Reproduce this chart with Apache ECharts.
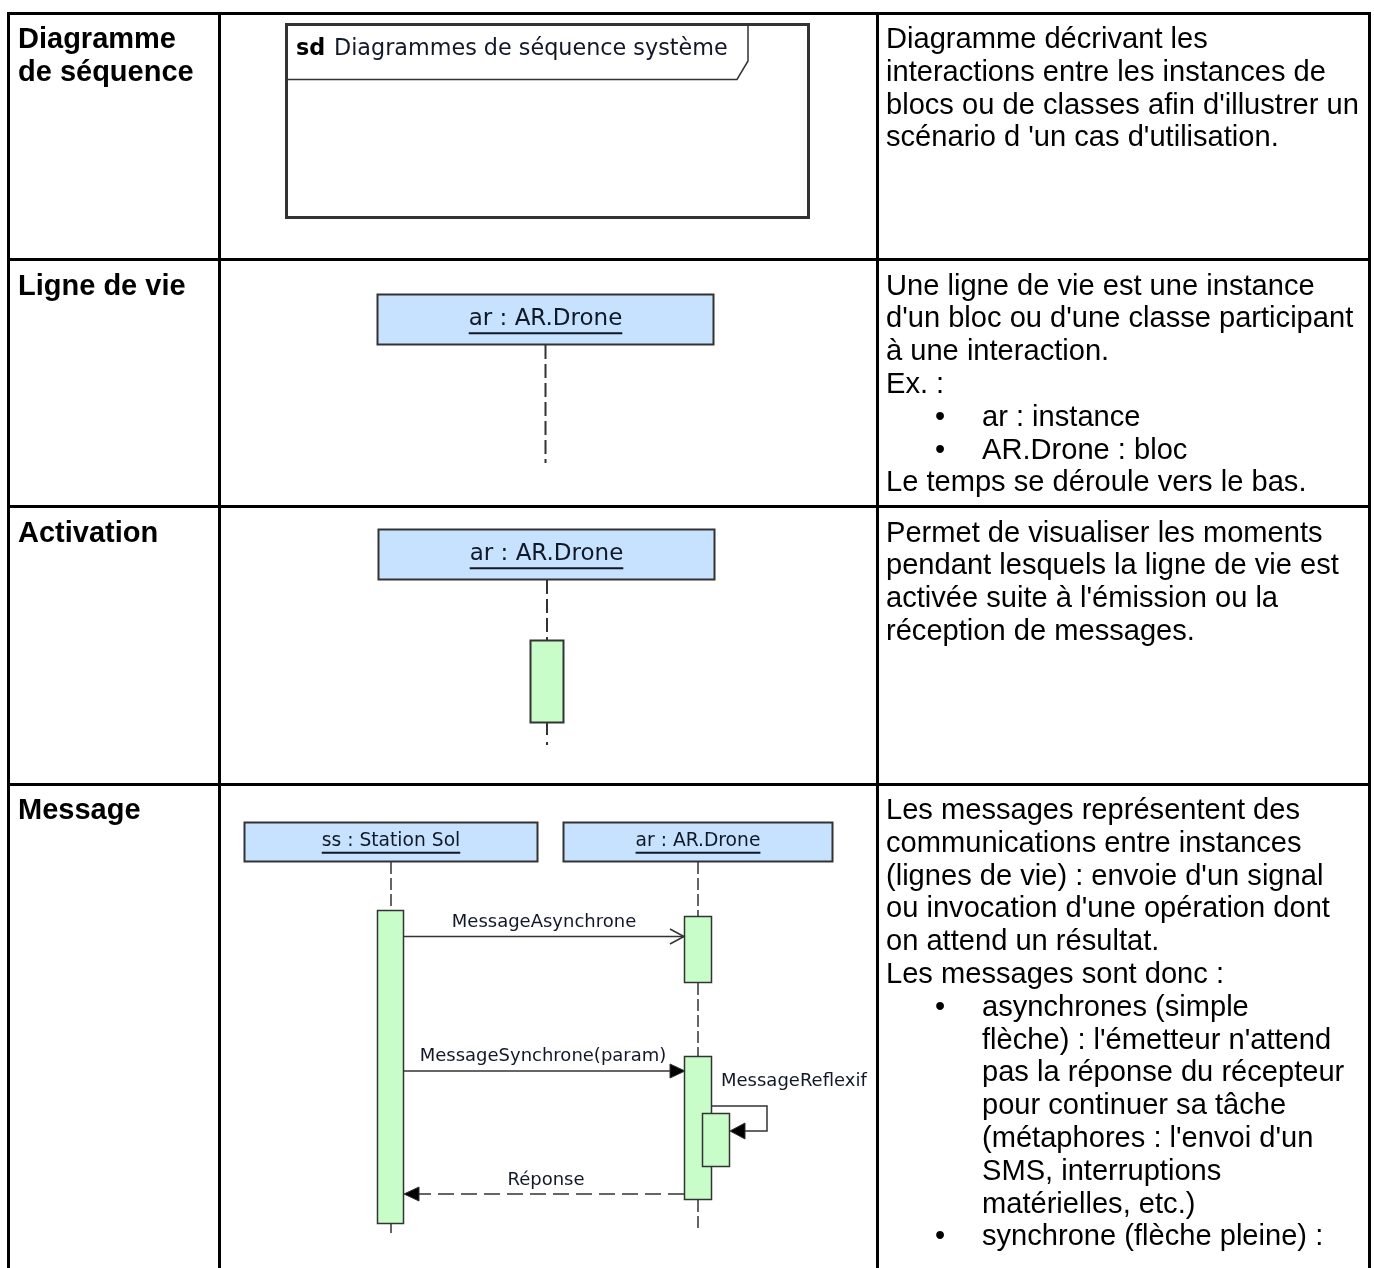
<!DOCTYPE html>
<html><head><meta charset="utf-8">
<script src="https://cdn.jsdelivr.net/npm/echarts@6/dist/echarts.min.js"></script>
<style>html,body{margin:0;padding:0;background:#fff;}#main{width:1374px;height:1268px;}</style>
</head><body><div id="main"></div>
<script>
// ---------- content ----------
const rowTitles = [["Diagramme", "de séquence"], ["Ligne de vie"], ["Activation"], ["Message"]];
// "• " = bullet line, "  " = continuation of bullet
const row1Text = ["Diagramme décrivant les", "interactions entre les instances de", "blocs ou de classes afin d'illustrer un", "scénario d 'un cas d'utilisation."];
const row2Text = ["Une ligne de vie est une instance", "d'un bloc ou d'une classe participant", "à une interaction.", "Ex. :", "• ar : instance", "• AR.Drone : bloc", "Le temps se déroule vers le bas."];
const row3Text = ["Permet de visualiser les moments", "pendant lesquels la ligne de vie est", "activée suite à l'émission ou la", "réception de messages."];
const row4Text = ["Les messages représentent des", "communications entre instances", "(lignes de vie) : envoie d'un signal", "ou invocation d'une opération dont", "on attend un résultat.", "Les messages sont donc :", "• asynchrones (simple", "  flèche) : l'émetteur n'attend", "  pas la réponse du récepteur", "  pour continuer sa tâche", "  (métaphores : l'envoi d'un", "  SMS, interruptions", "  matérielles, etc.)", "• synchrone (flèche pleine) :"];
const frameKeyword = "sd";
const frameTitle = "Diagrammes de séquence système";
const lifelineNames = ["ar : AR.Drone", "ss : Station Sol"];
const messageLabels = ["MessageAsynchrone", "MessageSynchrone(param)", "MessageReflexif", "Réponse"];

// ---------- layout / styles ----------
const FT = '"Liberation Sans", Arial, sans-serif';
const FU = '"DejaVu Sans", sans-serif';
const BLUE = '#c6e2fe', GREEN = '#c8fcc8', INK = '#333333', TXT = '#111827';
const LH = 32.8;
const els = [];
function line(x1, y1, x2, y2, w, c, dash) {
  els.push({type: 'line', silent: true, shape: {x1, y1, x2, y2}, style: {stroke: c || INK, lineWidth: w || 1.5, lineDash: dash || null}});
}
function rect(x, y, w, h, fill, sw) {
  els.push({type: 'rect', silent: true, shape: {x, y, width: w, height: h}, style: {fill: fill || 'none', stroke: INK, lineWidth: sw || 2}});
}
function poly(points, fill, sw) {
  els.push({type: fill ? 'polygon' : 'polyline', silent: true, shape: {points}, style: {fill: fill || 'none', stroke: INK, lineWidth: sw || 1.5}});
}
function text(t, x, y, size, opts) {
  opts = opts || {};
  els.push({type: 'text', silent: true, style: {text: t, x, y, fontSize: size, fontFamily: opts.family || FT, fontWeight: opts.bold ? 'bold' : 'normal', fill: opts.color || '#000', align: opts.align || 'left', textAlign: opts.align || 'left', verticalAlign: 'middle', textVerticalAlign: 'middle'}});
}
const ctx = document.createElement('canvas').getContext('2d');
function measure(t, size, family) { ctx.font = size + 'px ' + family; return ctx.measureText(t).width; }

// ---------- table ----------
const colX = [8.5, 219.5, 877.5, 1369.5];
const rowY = [13.5, 259.5, 506.5, 784.5];
colX.forEach(x => line(x, 12, x, 1268, 3, '#000'));
rowY.forEach(y => line(7, y, 1371, y, 3, '#000'));

const rowStart = [40, 286.5, 533.5, 811];
rowTitles.forEach((lines, r) => lines.forEach((t, i) => text(t, 18, rowStart[r] + i * LH, 29, {bold: true})));
[row1Text, row2Text, row3Text, row4Text].forEach((lines, r) => lines.forEach((t, i) => {
  const y = rowStart[r] + i * LH;
  if (t.startsWith('• ')) { text('•', 935, y, 29); text(t.slice(2), 982, y, 29.1); }
  else if (t.startsWith('  ')) text(t.slice(2), 982, y, 29.1);
  else text(t, 886, y, 29.1);
}));

// ---------- lifeline helper ----------
function lifeBox(name, x, y, w, h, size, cy) {
  rect(x, y, w, h, BLUE, 2);
  const cx = x + w / 2;
  text(name, cx, cy, size, {family: FU, align: 'center', color: TXT});
  const tw = measure(name, size, FU);
  line(cx - tw / 2, cy + size * 0.6, cx + tw / 2, cy + size * 0.6, 2, TXT);
}

// Row 1: sd frame
rect(286.5, 24.5, 522, 193, 'none', 3);
poly([[286.5, 79.5], [737, 79.5], [748, 61], [748, 24.5]], null, 1.5);
text(frameKeyword, 296, 49.5, 22.3, {family: FU, bold: true, color: '#000'});
text(frameTitle, 334, 49.5, 22.3, {family: FU, color: TXT});

// Row 2: lifeline
lifeBox(lifelineNames[0], 377.5, 294.5, 336, 50, 23, 319.5);
line(545.5, 345, 545.5, 463, 2, INK, [14, 5]);

// Row 3: activation
lifeBox(lifelineNames[0], 378.5, 529.5, 336, 50, 23, 554.5);
line(547, 580, 547, 640, 2, INK, [14, 5]);
rect(530.5, 640.5, 33, 82, GREEN, 2);
line(547, 723, 547, 745, 2, INK, [12, 7]);

// Row 4: messages
lifeBox(lifelineNames[1], 244.5, 822.5, 293, 39, 18.7, 841.5);
lifeBox(lifelineNames[0], 563.5, 822.5, 269, 39, 18.7, 841.5);
// ss lifeline
line(391, 862, 391, 910, 1.5, INK, [12, 4]);
line(391, 1223, 391, 1233, 1.5, INK);
rect(377.5, 910.5, 26, 313, GREEN, 1.5);
// ar lifeline
line(698, 862, 698, 916, 1.5, INK, [12, 4]);
line(698, 983, 698, 1056, 1.5, INK, [12, 4]);
line(698, 1200, 698, 1230, 1.5, INK, [12, 4]);
rect(684.5, 916.5, 27, 66, GREEN, 1.5);
rect(684.5, 1056.5, 27, 143, GREEN, 1.5);
rect(702.5, 1113.5, 27, 53, GREEN, 1.5);
// async
line(404, 936.5, 684, 936.5, 1.5, INK);
poly([[670, 929], [684, 936.5], [670, 944]], null, 1.5);
text(messageLabels[0], 544, 922.5, 18, {family: FU, align: 'center', color: TXT});
// sync
line(404, 1071, 672, 1071, 1.5, INK);
poly([[670, 1064], [685, 1071], [670, 1078]], '#000', 1);
text(messageLabels[1], 543, 1056.5, 18, {family: FU, align: 'center', color: TXT});
// reflexive
poly([[712, 1106], [767, 1106], [767, 1131], [745, 1131]], null, 1.5);
poly([[745, 1123], [730, 1131], [745, 1139]], '#000', 1);
text(messageLabels[2], 721, 1081.5, 18, {family: FU, color: TXT});
// reply
line(684, 1194, 418, 1194, 1.5, INK, [16, 7]);
poly([[419, 1187], [404, 1194], [419, 1201]], '#000', 1);
text(messageLabels[3], 546, 1180.5, 18, {family: FU, align: 'center', color: TXT});

const chart = echarts.init(document.getElementById('main'), null, {renderer: 'canvas'});
chart.setOption({backgroundColor: '#ffffff', animation: false, graphic: {elements: els}});
</script>
</body></html>
